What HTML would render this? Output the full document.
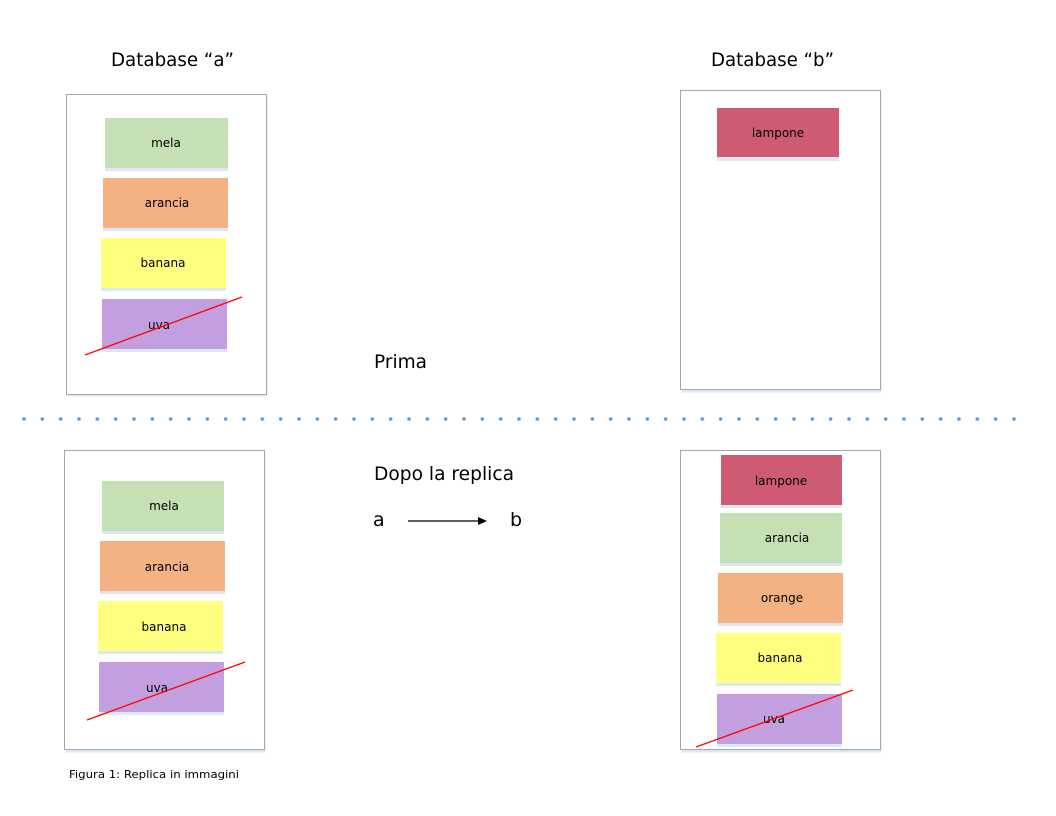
<!DOCTYPE html>
<html><head><meta charset="utf-8"><style>
html,body{margin:0;padding:0;background:#fff;}
svg{display:block;font-family:"DejaVu Sans","Liberation Sans",sans-serif;}
</style></head><body>
<svg width="1056" height="816" viewBox="0 0 1056 816" xmlns="http://www.w3.org/2000/svg">
<defs>
<pattern id="dots" x="15" y="410" width="18.333" height="18" patternUnits="userSpaceOnUse">
<circle cx="9" cy="9" r="1.8" fill="#5b9bd5"/>
</pattern>
</defs>
<rect x="15" y="410" width="1010" height="18" fill="url(#dots)"/>

<g font-size="19" fill="#000">
<text x="111" y="66" textLength="123" lengthAdjust="spacingAndGlyphs">Database “a”</text>
<text x="711" y="66" textLength="123" lengthAdjust="spacingAndGlyphs">Database “b”</text>
<text x="374" y="368" textLength="53" lengthAdjust="spacingAndGlyphs">Prima</text>
<text x="374" y="480" textLength="140" lengthAdjust="spacingAndGlyphs">Dopo la replica</text>
<text x="373" y="526">a</text>
<text x="510" y="526">b</text>
</g>
<line x1="408" y1="521" x2="478" y2="521" stroke="#000" stroke-width="1.2"/>
<polygon points="478,517 487,521 478,525" fill="#000"/>
<text x="69" y="778" font-size="11" textLength="170" lengthAdjust="spacingAndGlyphs">Figura 1: Replica in immagini</text>

<!-- containers -->
<g fill="#fff" stroke="#a6a6a6" stroke-width="1">
<rect x="67.5" y="96.5" width="200" height="300" fill="#dbe7f5" stroke="none"/>
<rect x="66.5" y="94.5" width="200" height="300"/>
<rect x="681.5" y="92.5" width="200" height="300" fill="#dbe7f5" stroke="none"/>
<rect x="680.5" y="90.5" width="200" height="299"/>
<rect x="65.5" y="452.5" width="200" height="300" fill="#dbe7f5" stroke="none"/>
<rect x="64.5" y="450.5" width="200" height="299"/>
<rect x="681.5" y="452.5" width="200" height="300" fill="#dbe7f5" stroke="none"/>
<rect x="680.5" y="450.5" width="200" height="299"/>
</g>

<g font-size="12" text-anchor="middle" fill="#000">
<!-- top-left -->
<rect x="105" y="118" width="123" height="53" fill="#dbe7f5"/><rect x="105" y="118" width="123" height="50" fill="#c5e0b4"/><text x="166" y="147">mela</text>
<rect x="103" y="178" width="125" height="53" fill="#dbe7f5"/><rect x="103" y="178" width="125" height="50" fill="#f4b183"/><text x="167" y="207">arancia</text>
<rect x="101" y="238" width="125" height="53" fill="#dbe7f5"/><rect x="101" y="238" width="125" height="50" fill="#ffff7f"/><text x="163" y="267">banana</text>
<rect x="102" y="299" width="125" height="53" fill="#dbe7f5"/><rect x="102" y="299" width="125" height="50" fill="#c39fe0"/><text x="159" y="329">uva</text>
<line x1="85" y1="355" x2="242" y2="297" stroke="#f00" stroke-width="1.3"/>

<!-- top-right -->
<rect x="717" y="108" width="122" height="53" fill="#dbe7f5"/><rect x="717" y="108" width="122" height="49" fill="#cf5b73"/><text x="778" y="137">lampone</text>

<!-- bottom-left -->
<rect x="102" y="481" width="122" height="53" fill="#dbe7f5"/><rect x="102" y="481" width="122" height="50" fill="#c5e0b4"/><text x="164" y="510">mela</text>
<rect x="100" y="541" width="125" height="53" fill="#dbe7f5"/><rect x="100" y="541" width="125" height="50" fill="#f4b183"/><text x="167" y="571">arancia</text>
<rect x="98" y="601" width="125" height="53" fill="#dbe7f5"/><rect x="98" y="601" width="125" height="50" fill="#ffff7f"/><text x="164" y="631">banana</text>
<rect x="99" y="662" width="125" height="53" fill="#dbe7f5"/><rect x="99" y="662" width="125" height="50" fill="#c39fe0"/><text x="157" y="692">uva</text>
<line x1="87" y1="720" x2="245" y2="662" stroke="#f00" stroke-width="1.3"/>

<!-- bottom-right -->
<rect x="721" y="455" width="121" height="53" fill="#dbe7f5"/><rect x="721" y="455" width="121" height="50" fill="#cf5b73"/><text x="781" y="485">lampone</text>
<rect x="720" y="513" width="122" height="53" fill="#dbe7f5"/><rect x="720" y="513" width="122" height="50" fill="#c5e0b4"/><text x="787" y="542">arancia</text>
<rect x="718" y="573" width="125" height="53" fill="#dbe7f5"/><rect x="718" y="573" width="125" height="50" fill="#f4b183"/><text x="782" y="602">orange</text>
<rect x="716" y="633" width="125" height="53" fill="#dbe7f5"/><rect x="716" y="633" width="125" height="50" fill="#ffff7f"/><text x="780" y="662">banana</text>
<rect x="717" y="694" width="125" height="53" fill="#dbe7f5"/><rect x="717" y="694" width="125" height="50" fill="#c39fe0"/><text x="774" y="723">uva</text>
<line x1="696" y1="747" x2="853" y2="690" stroke="#f00" stroke-width="1.3"/>
</g>
</svg>
</body></html>
